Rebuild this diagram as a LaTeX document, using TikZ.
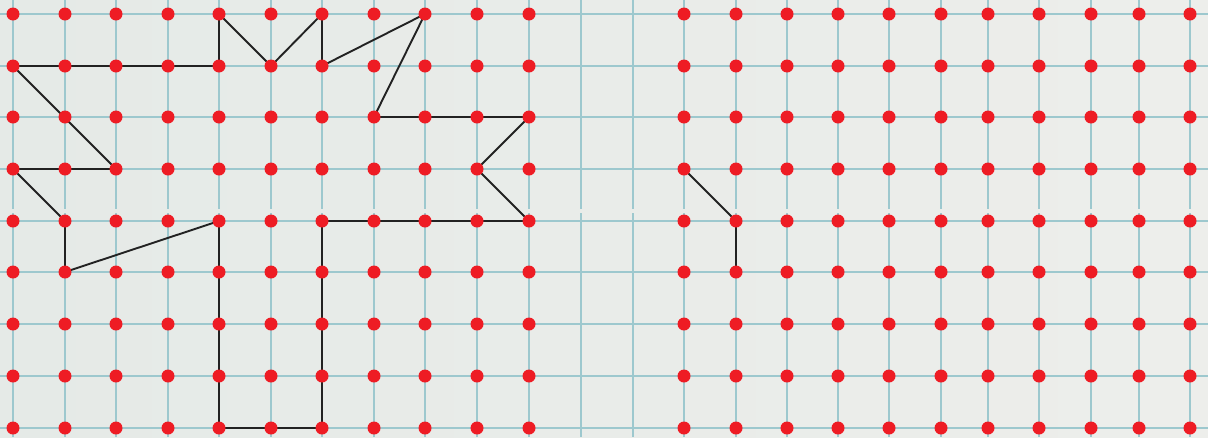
\documentclass[tikz,border=0pt]{standalone}
\definecolor{bgL}{HTML}{E5EAE7}
\definecolor{bgR}{HTML}{EDEEEB}
\definecolor{gridc}{HTML}{9DC8CE}
\definecolor{dotc}{HTML}{EE1C24}
\definecolor{edgec}{HTML}{222222}
\begin{document}
\begin{tikzpicture}[x=1pt,y=-1pt,
  gridline/.style={gridc, line width=2.5pt},
  edge/.style={edgec, line width=1.9pt, line join=round},
  dot/.style={circle, fill=dotc, inner sep=0pt, minimum size=13pt}]
\shade[left color=bgL, right color=bgR] (0,0) rectangle (1208,437);
\useasboundingbox (0,0) rectangle (1208,437);
\def\xs{13,65,116,168,219,271,322,374,425,477,529,581,633,684,736,787,838,889,941,988,1039,1091,1139,1190}
\def\ys{14,66,117,169,221,272,324,376,428}
% grid
\foreach \x in \xs {
  \draw[gridline] (\x,0) -- (\x,209);
  \draw[gridline] (\x,213) -- (\x,437);
}
\foreach \y in \ys {
  \draw[gridline] (0,\y) -- (1208,\y);
}
% grid coordinates
\foreach \x [count=\ii from 0] in \xs {
  \foreach \y [count=\jj from 0] in \ys {
    \coordinate (c-\ii-\jj) at (\x,\y);
  }
}
% polygon
\draw[edge] (c-0-1) -- (c-4-1) -- (c-4-0) -- (c-5-1) -- (c-6-0) -- (c-6-1)
  -- (c-8-0) -- (c-7-2) -- (c-10-2) -- (c-9-3) -- (c-10-4) -- (c-6-4)
  -- (c-6-8) -- (c-4-8) -- (c-4-4) -- (c-1-5) -- (c-1-4) -- (c-0-3)
  -- (c-2-3) -- cycle;
\draw[edge] (c-13-3) -- (c-14-4) -- (c-14-5);
% dots
\foreach \ii in {0,...,10,13,14,...,23} {
  \foreach \jj in {0,...,8} {
    \node[dot] (d-\ii-\jj) at (c-\ii-\jj) {};
  }
}
\end{tikzpicture}
\end{document}
